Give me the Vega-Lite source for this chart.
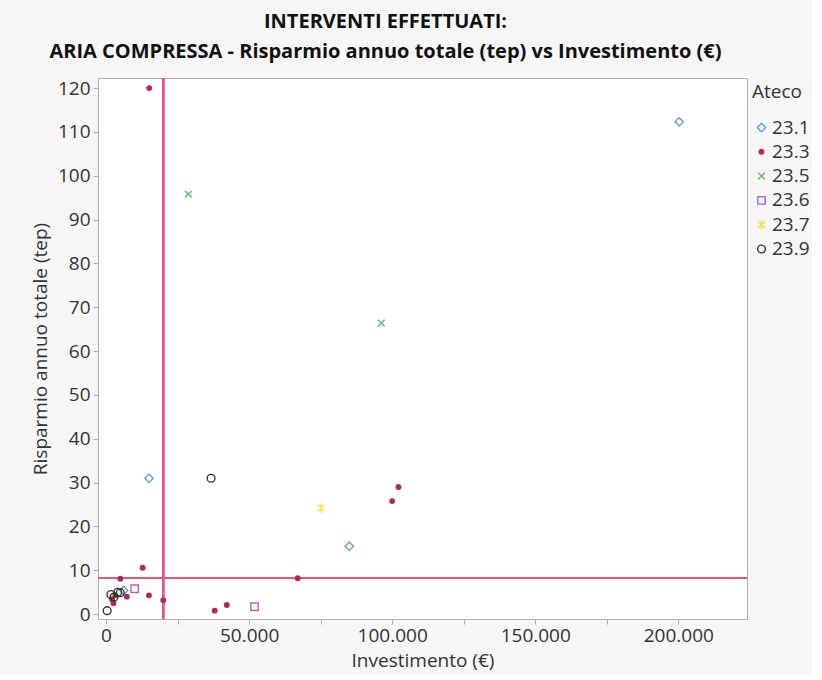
{
  "$schema": "https://vega.github.io/schema/vega-lite/v6.json",
  "width": 649,
  "height": 541,
  "padding": {"left": 31, "top": 12, "right": 2, "bottom": 5},
  "background": "#f6f6f6",
  "title": {
    "text": ["INTERVENTI EFFETTUATI:", "ARIA COMPRESSA - Risparmio annuo totale (tep) vs Investimento (€)"],
    "font": "Open Sans",
    "fontSize": 20,
    "fontWeight": "bold",
    "color": "#111111",
    "lineHeight": 30,
    "anchor": "middle",
    "dx": -37,
    "offset": 15
  },
  "config": {
    "view": {"stroke": "#b0b0b0", "fill": "white"},
    "font": "Open Sans",
    "axis": {
      "labelFont": "Open Sans",
      "titleFont": "Open Sans",
      "labelFontSize": 19,
      "titleFontSize": 19,
      "titleFontWeight": "normal",
      "labelColor": "#333333",
      "titleColor": "#333333",
      "grid": false,
      "domain": false,
      "tickColor": "#aaaaaa",
      "tickSize": 5
    },
    "legend": {
      "labelFont": "Open Sans",
      "titleFont": "Open Sans",
      "labelFontSize": 19,
      "titleFontSize": 19,
      "titleFontWeight": "normal",
      "labelColor": "#333333",
      "titleColor": "#333333"
    }
  },
  "data": {
    "values": [
      {"Ateco": "23.1", "Investimento": 200300, "Risparmio": 112.3},
      {"Ateco": "23.1", "Investimento": 15000, "Risparmio": 31},
      {"Ateco": "23.1", "Investimento": 85000, "Risparmio": 15.5},
      {"Ateco": "23.1", "Investimento": 6200, "Risparmio": 5.4},
      {"Ateco": "23.3", "Investimento": 15100, "Risparmio": 120},
      {"Ateco": "23.3", "Investimento": 102200, "Risparmio": 29},
      {"Ateco": "23.3", "Investimento": 100000, "Risparmio": 25.8},
      {"Ateco": "23.3", "Investimento": 67000, "Risparmio": 8.2},
      {"Ateco": "23.3", "Investimento": 12800, "Risparmio": 10.6},
      {"Ateco": "23.3", "Investimento": 5000, "Risparmio": 8.1},
      {"Ateco": "23.3", "Investimento": 7300, "Risparmio": 4.0},
      {"Ateco": "23.3", "Investimento": 15000, "Risparmio": 4.3},
      {"Ateco": "23.3", "Investimento": 20000, "Risparmio": 3.2},
      {"Ateco": "23.3", "Investimento": 38000, "Risparmio": 0.8},
      {"Ateco": "23.3", "Investimento": 42200, "Risparmio": 2.1},
      {"Ateco": "23.3", "Investimento": 2100, "Risparmio": 3.4},
      {"Ateco": "23.3", "Investimento": 2600, "Risparmio": 2.5},
      {"Ateco": "23.3", "Investimento": 3300, "Risparmio": 4.3},
      {"Ateco": "23.5", "Investimento": 28800, "Risparmio": 95.8},
      {"Ateco": "23.5", "Investimento": 96200, "Risparmio": 66.4},
      {"Ateco": "23.6", "Investimento": 10000, "Risparmio": 5.8},
      {"Ateco": "23.6", "Investimento": 51900, "Risparmio": 1.7},
      {"Ateco": "23.7", "Investimento": 75200, "Risparmio": 24.2},
      {"Ateco": "23.9", "Investimento": 36700, "Risparmio": 31},
      {"Ateco": "23.9", "Investimento": 400, "Risparmio": 0.8},
      {"Ateco": "23.9", "Investimento": 1700, "Risparmio": 4.5},
      {"Ateco": "23.9", "Investimento": 4100, "Risparmio": 5.0},
      {"Ateco": "23.9", "Investimento": 2800, "Risparmio": 3.9},
      {"Ateco": "23.9", "Investimento": 5000, "Risparmio": 4.9}
    ]
  },
  "layer": [
    {
      "mark": {"type": "rule", "color": "#e3587a", "strokeWidth": 1.6},
      "encoding": {"x": {"datum": 20000, "type": "quantitative"}}
    },
    {
      "mark": {"type": "rule", "color": "#e3587a", "strokeWidth": 1.6},
      "encoding": {"y": {"datum": 8.2, "type": "quantitative"}}
    },
    {
      "mark": {"type": "point", "filled": false, "strokeWidth": 1.4, "opacity": 1},
      "encoding": {
        "x": {
          "field": "Investimento",
          "type": "quantitative",
          "title": "Investimento (€)",
          "scale": {"domain": [-2800, 224000], "nice": false, "zero": false},
          "axis": {
            "values": [0, 12500, 25000, 37500, 50000, 62500, 75000, 87500, 100000, 112500, 125000, 137500, 150000, 162500, 175000, 187500, 200000, 212500],
            "labelExpr": "datum.value % 50000 == 0 ? replace(format(datum.value, ','), ',', '.') : ''",
            "labelPadding": 2,
            "titlePadding": 6
          }
        },
        "y": {
          "field": "Risparmio",
          "type": "quantitative",
          "title": "Risparmio annuo totale (tep)",
          "scale": {"domain": [-1.1, 122.3], "nice": false, "zero": false},
          "axis": {
            "values": [0, 10, 20, 30, 40, 50, 60, 70, 80, 90, 100, 110, 120],
            "labelPadding": 3,
            "titlePadding": 7
          }
        },
        "color": {
          "field": "Ateco",
          "type": "nominal",
          "title": "Ateco",
          "scale": {
            "domain": ["23.1", "23.3", "23.5", "23.6", "23.7", "23.9"],
            "range": ["#6f98e8", "#b42a4e", "#62b86e", "#b561d6", "#e8e83a", "#333333"]
          },
          "legend": {"orient": "none", "legendX": 654, "legendY": 5, "rowPadding": 4.3, "titlePadding": 16, "labelOffset": 1, "symbolStrokeWidth": 1.4, "padding": 0, "symbolSize": 50}
        },
        "fill": {
          "field": "Ateco",
          "type": "nominal",
          "title": "Ateco",
          "scale": {
            "domain": ["23.1", "23.3", "23.5", "23.6", "23.7", "23.9"],
            "range": ["transparent", "#b42a4e", "transparent", "transparent", "transparent", "transparent"]
          }
        },
        "shape": {
          "field": "Ateco",
          "type": "nominal",
          "title": "Ateco",
          "scale": {
            "domain": ["23.1", "23.3", "23.5", "23.6", "23.7", "23.9"],
            "range": ["diamond", "circle", "M-1,-1L1,1M1,-1L-1,1", "square", "M-1,-1L1,1M1,-1L-1,1M0,-1.3L0,1.3", "circle"]
          }
        },
        "size": {
          "field": "Ateco",
          "type": "nominal",
          "legend": null,
          "scale": {
            "type": "ordinal",
            "domain": ["23.1", "23.3", "23.5", "23.6", "23.7", "23.9"],
            "range": [70, 20, 45, 55, 50, 60]
          }
        }
      }
    }
  ]
}
